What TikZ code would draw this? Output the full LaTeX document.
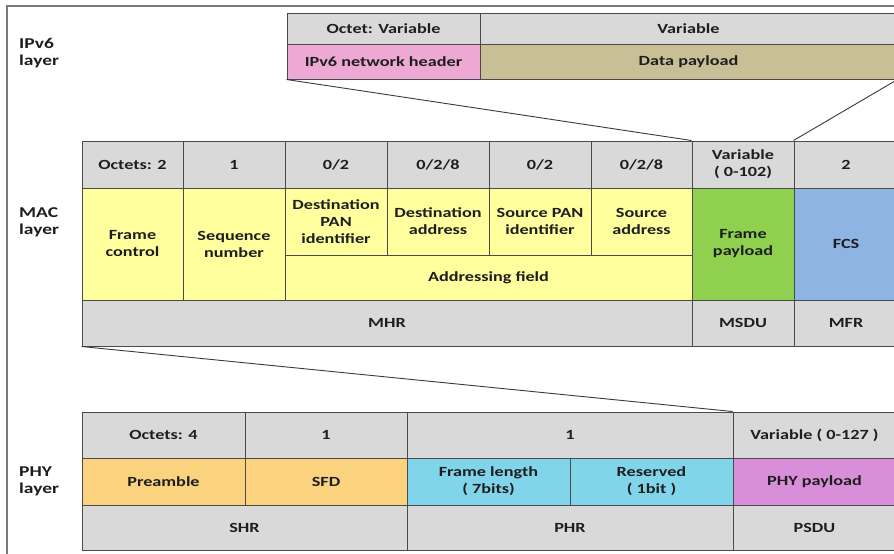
\documentclass[tikz,border=0pt]{standalone}
\usepackage{fontspec}
\setmainfont{Carlito}[FakeStretch=1.3]
\definecolor{hdrgray}{HTML}{D9D9D9}
\definecolor{bordercol}{HTML}{4A4A4A}
\definecolor{linkcol}{HTML}{3A3A3A}
\definecolor{framecol}{HTML}{7A7A7A}
\definecolor{textcol}{HTML}{1E1E1E}
\definecolor{pinkc}{HTML}{EEA8D4}
\definecolor{tanc}{HTML}{C9BF97}
\definecolor{yellowc}{HTML}{FFFF9E}
\definecolor{greenc}{HTML}{8FD14F}
\definecolor{bluec}{HTML}{8DB4E2}
\definecolor{orangec}{HTML}{FBD27E}
\definecolor{cyanc}{HTML}{80D5EA}
\definecolor{violetc}{HTML}{D98EDA}
\newcommand\cellfont{\fontsize{14}{17}\selectfont\bfseries}
\newcommand\labelfont{\fontsize{15}{17}\selectfont\bfseries}
\tikzset{
  cell/.style={draw=bordercol, line width=1pt, inner sep=0pt, align=center, font=\cellfont, text=textcol},
  link/.style={draw=linkcol, line width=0.9pt},
  frame/.style={draw=framecol, line width=1.5pt},
  layerlabel/.style={anchor=west, align=left, inner sep=0pt, font=\labelfont, text=textcol},
}
\newcommand\mkcell[7]{\node[cell, fill=#6, minimum width=#4pt-#2pt, minimum height=#5pt-#3pt] (#1) at ({(#2+#4)/2},{(#3+#5)/2}) {#7};}
\begin{document}
\begin{tikzpicture}[x=1pt,y=-1pt]
\useasboundingbox (0,0) rectangle (894,554);
\clip (0,0) rectangle (894,554);
\fill[white] (0,0) rectangle (894,554);
% outer frame
\coordinate (fbl) at (7,556);
\coordinate (ftl) at (7,6);
\coordinate (ftr) at (896,6);
\draw[frame] (fbl) -- (ftl) -- (ftr);
% layer labels
\node[layerlabel] (lipv6) at (19,53) {IPv6\\layer};
\node[layerlabel] (lmac) at (19,222) {MAC\\layer};
\node[layerlabel] (lphy) at (19,481) {PHY\\layer};
% IPv6 layer
\mkcell{i1}{287}{13}{480}{44}{hdrgray}{Octet: Variable}
\mkcell{i2}{480}{13}{897}{44}{hdrgray}{Variable}
\mkcell{i3}{287}{44}{480}{79}{pinkc}{IPv6 network header}
\mkcell{i4}{480}{44}{897}{79}{tanc}{Data payload}
% MAC layer header
\mkcell{m1}{82}{141}{183}{188}{hdrgray}{Octets: 2}
\mkcell{m2}{183}{141}{285}{188}{hdrgray}{1}
\mkcell{m3}{285}{141}{387}{188}{hdrgray}{0/2}
\mkcell{m4}{387}{141}{489}{188}{hdrgray}{0/2/8}
\mkcell{m5}{489}{141}{591}{188}{hdrgray}{0/2}
\mkcell{m6}{591}{141}{692}{188}{hdrgray}{0/2/8}
\mkcell{m7}{692}{141}{794}{188}{hdrgray}{Variable\\( 0-102)}
\mkcell{m8}{794}{141}{898}{188}{hdrgray}{2}
% MAC fields
\mkcell{fc}{82}{188}{183}{300}{yellowc}{Frame\\control}
\mkcell{sn}{183}{188}{285}{300}{yellowc}{Sequence\\number}
\mkcell{dpan}{285}{188}{387}{255}{yellowc}{Destination\\PAN\\identifier}
\mkcell{da}{387}{188}{489}{255}{yellowc}{Destination\\address}
\mkcell{span}{489}{188}{591}{255}{yellowc}{Source PAN\\identifier}
\mkcell{sa}{591}{188}{692}{255}{yellowc}{Source\\address}
\mkcell{af}{285}{255}{692}{300}{yellowc}{Addressing field}
\mkcell{fp}{692}{188}{794}{300}{greenc}{Frame\\payload}
\mkcell{fcs}{794}{188}{898}{300}{bluec}{FCS}
% MAC bottom row
\mkcell{mhr}{82}{300}{692}{346}{hdrgray}{MHR}
\mkcell{msdu}{692}{300}{794}{346}{hdrgray}{MSDU}
\mkcell{mfr}{794}{300}{898}{346}{hdrgray}{MFR}
% PHY layer header
\mkcell{p1}{82}{412}{245}{458}{hdrgray}{Octets: 4}
\mkcell{p2}{245}{412}{407}{458}{hdrgray}{1}
\mkcell{p3}{407}{412}{733}{458}{hdrgray}{1}
\mkcell{p4}{733}{412}{896}{458}{hdrgray}{Variable ( 0-127 )}
% PHY fields
\mkcell{pre}{82}{458}{245}{505}{orangec}{Preamble}
\mkcell{sfd}{245}{458}{407}{505}{orangec}{SFD}
\mkcell{fl}{407}{458}{570}{505}{cyanc}{Frame length\\( 7bits)}
\mkcell{res}{570}{458}{733}{505}{cyanc}{Reserved\\( 1bit )}
\mkcell{pp}{733}{458}{896}{505}{violetc}{PHY payload}
% PHY bottom row
\mkcell{shr}{82}{505}{407}{550}{hdrgray}{SHR}
\mkcell{phr}{407}{505}{733}{550}{hdrgray}{PHR}
\mkcell{psdu}{733}{505}{896}{550}{hdrgray}{PSDU}
% connectors
\draw[link] (i3.south west) -- (m7.north west);
\draw[link] (i4.south east) -- (m8.north west);
\draw[link] (mhr.south west) -- (p4.north west);
\end{tikzpicture}
\end{document}
